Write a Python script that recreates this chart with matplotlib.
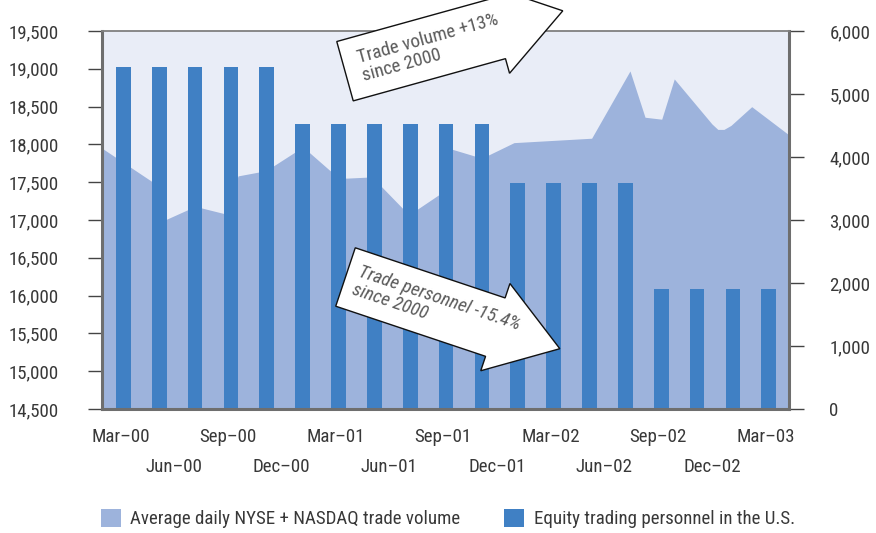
import matplotlib
matplotlib.use('Agg')
import matplotlib.pyplot as plt
from matplotlib import font_manager
from matplotlib.patches import Polygon, Patch
from matplotlib.transforms import Affine2D, ScaledTranslation, IdentityTransform
import numpy as np

available = {f.name for f in font_manager.fontManager.ttflist}
FONT = 'DejaVu Sans'
for fam in ['Liberation Sans Narrow', 'Roboto Condensed', 'Liberation Sans']:
    if fam in available:
        FONT = fam
        break
plt.rcParams['font.family'] = [FONT, 'DejaVu Sans']

# ---------------- data ----------------
# months counted from Mar-00 (=0)
bar_months = list(range(0, 37, 2))
personnel = [19030, 19030, 19030, 19030, 19030,
             18270, 18270, 18270, 18270, 18270, 18270,
             17490, 17490, 17490, 17490,
             16090, 16090, 16090, 16090]

vol_months = [-1.19, 1.60, 2.33, 3.61, 4.00, 5.62, 6.40, 7.96, 10.02, 11.53,
              12.42, 13.87, 15.93, 17.83, 18.28, 20.00, 21.79, 26.12, 28.26,
              29.10, 30.03, 30.73, 32.83, 33.16, 33.50, 33.89, 35.05, 37.13]
vol_values = [4140, 3610, 3002, 3166, 3217, 3102, 3700, 3783, 4160, 3784,
              3664, 3684, 3082, 3446, 4128, 3981, 4228, 4298, 5366,
              4631, 4600, 5239, 4525, 4438, 4438, 4501, 4799, 4350]

tick_months = list(range(0, 37, 3))
tick_labels = ['Mar–00', 'Jun–00', 'Sep–00', 'Dec–00', 'Mar–01', 'Jun–01',
               'Sep–01', 'Dec–01', 'Mar–02', 'Jun–02', 'Sep–02', 'Dec–02',
               'Mar–03']

left_ticks = list(range(14500, 19501, 500))
right_ticks = list(range(0, 6001, 1000))

legend_labels = ['Average daily NYSE + NASDAQ trade volume',
                 'Equity trading personnel in the U.S.']
arrow_texts = ['Trade volume +13%\nsince 2000',
               'Trade personnel -15.4%\nsince 2000']

# ---------------- style ----------------
BG = '#e9edf7'
AREA = '#9db3dc'
BAR = '#4080c4'
SPINE = '#6e6e6e'
TXT = '#383838'
FS = 13.6

W, H = 876, 533
fig = plt.figure(figsize=(W / 100, H / 100), dpi=100)
ax = fig.add_axes([102 / W, (H - 409) / H, 687 / W, 378 / H])
ax2 = ax.twinx()

ax.set_zorder(2)
ax2.set_zorder(1)
ax.patch.set_visible(False)
ax2.patch.set_visible(True)
ax2.patch.set_facecolor(BG)

# area (right axis)
ax2.fill_between(vol_months, 0, vol_values, color=AREA, lw=0)
ax2.set_ylim(0, 6000)
ax2.set_yticks(right_ticks)
ax2.set_yticklabels([f'{v:,}' for v in right_ticks])
ax2.tick_params(axis='y', length=11, width=1, color='#444444', pad=18,
                labelsize=FS, labelcolor=TXT)
for s in ax2.spines.values():
    s.set_visible(False)

# bars (left axis)
ax.bar(bar_months, personnel, width=0.82, color=BAR, lw=0)
ax.set_ylim(14500, 19500)
ax.set_xlim(-1.19, 37.13)
ax.set_yticks(left_ticks)
ax.set_yticklabels([f'{v:,}' for v in left_ticks])
ax.tick_params(axis='y', length=10, width=1, color='#444444', pad=21,
               labelsize=FS, labelcolor=TXT)

ax.set_xticks(tick_months[0::2], tick_labels[0::2])
ax.set_xticks(tick_months[1::2], tick_labels[1::2], minor=True)
ax.tick_params(axis='x', which='major', length=0, pad=13.5, labelsize=FS, labelcolor=TXT)
ax.tick_params(axis='x', which='minor', length=0, pad=35.5, labelsize=FS, labelcolor=TXT)
off = ScaledTranslation(-3 / 100, 0, fig.dpi_scale_trans)
for lab in ax.get_xticklabels() + ax.get_xticklabels(minor=True):
    lab.set_transform(lab.get_transform() + off)

for side in ['left', 'right', 'bottom']:
    ax.spines[side].set_linewidth(2.2)
    ax.spines[side].set_color(SPINE)
ax.spines['top'].set_linewidth(1.3)
ax.spines['top'].set_color('#808080')

# legend
handles = [Patch(facecolor=AREA, edgecolor='none'), Patch(facecolor=BAR, edgecolor='none')]
fig.legend(handles, legend_labels, loc='center left',
           bbox_to_anchor=(101 / W, 14.5 / H), ncol=2, frameon=False,
           fontsize=FS, handlelength=1.06, handleheight=1.06,
           handletextpad=0.5, columnspacing=2.3, borderpad=0,
           borderaxespad=0, labelcolor=TXT)

# block arrows with text
def block_arrow(cx, cy, theta, text, along, italic):
    w, hw, L, T = 30.8, 46, 158, 226
    pts = np.array([[0, -w], [L, -w], [L, -hw], [T, 0], [L, hw], [L, w], [0, w]])
    tr = Affine2D().rotate_deg(theta).translate(cx, cy)
    poly = Polygon(tr.transform(pts), closed=True, facecolor='white',
                   edgecolor='#111111', lw=1.0, transform=IdentityTransform(),
                   zorder=20)
    fig.add_artist(poly)
    t = np.deg2rad(theta)
    tx, ty = cx + along * np.cos(t), cy + along * np.sin(t)
    fig.text(tx / W, ty / H, text, rotation=theta, rotation_mode='anchor',
             ha='left', va='center', fontsize=FS, color='#5a5a5a',
             linespacing=1.05, style='italic' if italic else 'normal',
             zorder=21)

block_arrow(345, H - 71.2, 15.5, arrow_texts[0], 16, False)
block_arrow(345.5, H - 277, -18.5, arrow_texts[1], 11, True)

fig.savefig('out.png', dpi=100)
